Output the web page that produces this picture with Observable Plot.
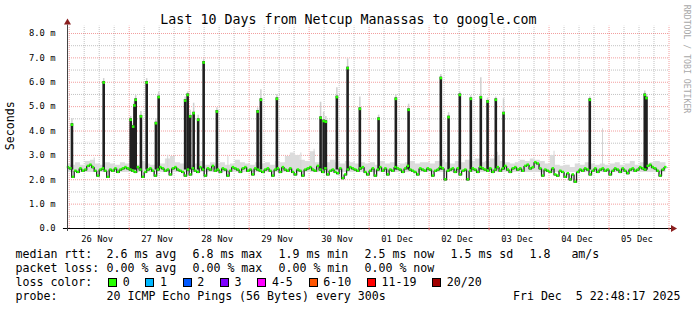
<!DOCTYPE html>
<html><head><meta charset="utf-8">
<script src="https://cdn.jsdelivr.net/npm/d3@7"></script>
<script src="https://cdn.jsdelivr.net/npm/@observablehq/plot@0.6"></script>
<style>
body{margin:0;background:#fff;}
#wrap{position:relative;width:697px;height:310px;overflow:hidden;background:#fff;font-family:"DejaVu Sans Mono",monospace;color:#000;}
#wrap svg{position:absolute;left:0;top:0;}
.t{position:absolute;white-space:pre;line-height:1;font-size:11.6px;}
.box{position:absolute;width:9px;height:9px;box-sizing:border-box;border:1px solid #000;}
</style></head><body><div id="wrap"></div><script>
// ---------- data ----------
const title = "Last 10 Days from Netcup Manassas to google.com";
const yAxisLabel = "Seconds";
const watermark = "RRDTOOL / TOBI OETIKER";
const dayLabels = ["26 Nov","27 Nov","28 Nov","29 Nov","30 Nov","01 Dec","02 Dec","03 Dec","04 Dec","05 Dec"];
const yTicks = [0,1,2,3,4,5,6,7,8];
const yTickLabels = ["0.0","1.0 m","2.0 m","3.0 m","4.0 m","5.0 m","6.0 m","7.0 m","8.0 m"];

// hourly median RTT (ms), one array per day
const medNov26 = [2.5,2.45,2.1,2.35,2.3,2.45,2.35,2.4,2.55,2.6,2.5,2.35,2.15,2.4,2.45,2.35,2.1,2.4,2.35,2.45,2.3,2.4,2.45,2.5];
const medNov27 = [2.45,2.4,2.35,2.3,2.5,2.4,2.1,2.3,2.4,2.45,2.35,2.15,2.4,2.5,2.45,2.35,2.4,2.2,2.45,2.5,2.4,2.35,2.3,2.15];
const medNov28 = [2.4,2.2,2.45,2.35,2.3,2.5,2.4,2.15,2.45,2.4,2.55,2.35,2.4,2.3,2.45,2.4,2.15,2.35,2.5,2.45,2.4,2.3,2.45,2.5];
const medNov29 = [2.35,2.4,2.2,2.45,2.4,2.35,2.3,2.4,2.45,2.35,2.15,2.4,2.45,2.3,2.5,2.4,2.35,2.45,2.3,2.2,2.4,2.35,2.15,2.4];
const medNov30 = [2.45,2.5,2.4,2.35,2.55,2.4,2.3,2.45,2.2,2.35,2.4,2.3,2.25,2.45,2.05,2.2,2.4,2.5,2.45,2.4,2.35,2.45,2.5,2.3];
const medDec01 = [2.2,2.35,2.45,2.15,2.4,2.5,2.35,2.45,2.2,2.4,2.35,2.5,2.45,2.4,2.3,2.45,2.55,2.4,2.35,2.3,2.2,2.45,2.4,2.35];
const medDec02 = [2.45,2.4,2.15,2.35,2.4,2.5,2.45,2.0,2.35,2.4,2.45,2.3,2.45,2.2,2.35,2.4,2.0,2.35,2.45,2.4,2.3,2.5,2.45,2.4];
const medDec03 = [2.35,2.45,2.3,2.4,2.5,2.35,2.45,2.55,2.4,2.3,2.45,2.5,2.4,2.45,2.35,2.55,2.6,2.45,2.5,2.7,2.65,2.45,2.15,2.4];
const medDec04 = [2.35,2.3,2.45,2.2,2.15,2.35,2.3,2.1,2.25,2.0,2.2,1.9,2.3,2.4,2.35,2.45,2.4,2.2,2.35,2.45,2.3,2.4,2.45,2.35];
const medDec05 = [2.4,2.2,2.35,2.45,2.4,2.3,2.45,2.35,2.25,2.4,2.45,2.35,2.4,2.5,2.45,2.4,2.55,2.6,2.5,2.45,2.35,2.15,2.4,2.5];

// 2-hourly top of the grey smoke (ms)
const smokeHi = [
 2.65,2.6,2.7,2.6,2.75,2.8,2.65,2.6,2.7,2.65,2.6,2.7,
 2.65,2.7,2.6,2.75,2.65,2.6,2.7,2.65,2.85,2.95,2.7,2.65,
 2.7,2.6,2.65,2.75,2.6,2.7,2.65,2.7,2.6,2.65,2.8,2.7,
 2.65,2.6,2.7,2.65,2.7,2.6,2.75,2.7,2.95,3.1,3.0,2.8,
 2.75,3.15,2.7,2.65,2.7,2.8,2.7,2.65,2.75,2.7,2.65,2.7,
 2.65,2.7,2.6,2.75,2.65,2.7,2.6,2.65,2.7,2.75,2.65,2.7,
 2.7,2.65,2.75,2.8,2.7,2.65,2.75,2.7,2.8,2.75,2.85,2.7,
 2.75,2.85,3.0,2.75,2.7,2.65,2.7,2.8,2.75,2.85,2.8,2.75,
 2.65,3.0,2.6,2.55,2.6,2.5,2.65,2.6,2.7,2.65,2.6,2.65,
 2.6,2.65,2.7,2.6,2.65,2.75,2.6,2.7,2.65,2.7,2.75,2.7];
const smokeFloor = 2.3;

// latency spikes: hour since 26 Nov 00:00, median value, smoke top
const spikeHours  = [1.1,13.8,24.6,25.6,26.1,26.6,28.7,31.0,34.7,35.8,46.4,47.4,48.4,49.8,51.6,53.8,59.1,75.4,76.7,83.1,100.6,101.8,102.7,107.1,111.4,116.3,123.8,130.7,135.8,148.7,151.8,156.3,160.7,164.7,167.4,170.7,173.8,208.3,230.3,231.0];
const spikeValues = [4.30,6.03,4.50,4.22,5.09,5.32,4.64,6.03,4.36,5.43,5.29,5.52,4.64,4.77,4.50,6.85,4.84,4.84,5.32,5.36,4.58,4.45,4.42,5.43,6.62,4.95,4.54,5.36,4.91,6.21,4.61,5.52,5.36,5.42,5.25,5.32,4.77,5.32,5.52,5.39];
const spikeSmoke  = [4.5,6.15,4.6,4.3,5.2,5.45,4.8,6.15,4.5,5.6,5.4,5.6,4.85,5.14,4.65,6.95,4.95,4.95,5.69,5.5,5.18,4.77,4.6,5.77,6.96,5.39,4.65,5.5,5.1,6.32,4.75,5.6,5.45,6.18,5.35,5.4,5.32,5.4,5.64,5.5];
const spikeBase = 2.4;
// lone grey smoke needles
const needleHours  = [10.0,39.4,63.5,92.7,98.0,171.4,194.0,213.4];
const needleValues = [2.9,3.0,2.95,3.1,3.25,3.13,3.17,4.09];

// legend
const rttStats  = ["2.6 ms avg","6.8 ms max","1.9 ms min","2.5 ms now","1.5 ms sd","1.8   am/s"];
const lossStats = ["0.00 % avg","0.00 % max","0.00 % min","0.00 % now"];
const lossLabels = ["0","1","2","3","4-5","6-10","11-19","20/20"];
const lossColors = ["#26ff00","#00b8ff","#0059ff","#7e00ff","#ff00ff","#ff5500","#ff0000","#a10000"];
const probeText = "20 ICMP Echo Pings (56 Bytes) every 300s";
const dateText = "Fri Dec  5 22:48:17 2025";

// ---------- build ----------
const HOUR = 3600e3, DAY = 24*HOUR;
const t0 = Date.UTC(2025,10,26,0,0);
const T = h => new Date(t0 + h*HOUR);
const xDomain = [T(-0.68), T(240)];

const medianAll = [].concat(medNov26,medNov27,medNov28,medNov29,medNov30,medDec01,medDec02,medDec03,medDec04,medDec05);
const median = medianAll.map((v,i) => ({t: T(i - 0.5), v}));
const smoke = smokeHi.map((v,i) => ({t: T(i*2 - 0.5), v})).concat([{t: T(238.8), v: smokeHi[smokeHi.length-1]}]);
const spikes = spikeHours.map((h,i) => ({t: T(h), v: spikeValues[i], s: spikeSmoke[i]}));
const needles = needleHours.map((h,i) => ({t: T(h), v: needleValues[i]}));

const midnights = d3.range(0, 11).map(d => T(d*24));
const minors = d3.range(0, 40).filter(k => k % 4 !== 0).map(k => T(k*6));
const noons = dayLabels.map((_, i) => T(i*24 + 12));
const halfTicks = [0.5,1.5,2.5,3.5,4.5,5.5,6.5,7.5];

const gridMinor = {stroke: "#8f8f8f", strokeOpacity: 0.55, strokeDasharray: "1,1"};
const gridMajor = {stroke: "#e95f5f", strokeOpacity: 0.6, strokeDasharray: "1,1"};

const chart = Plot.plot({
  width: 697, height: 245,
  marginLeft: 67, marginRight: 28.5, marginTop: 33, marginBottom: 17,
  style: {fontFamily: "DejaVu Sans Mono", fontSize: "8.8px", background: "transparent", color: "#000"},
  x: {type: "utc", domain: xDomain},
  y: {domain: [0, 8]},
  marks: [
    Plot.ruleY(halfTicks, gridMinor),
    Plot.ruleX(minors, {x: d => d, y1: 0, y2: 8.3, ...gridMinor}),
    Plot.ruleY(yTicks.slice(1), gridMajor),
    Plot.ruleX(midnights, {x: d => d, y1: 0, y2: 8.3, ...gridMajor}),
    Plot.areaY(smoke, {x: "t", y1: smokeFloor, y2: "v", fill: "#dcdcdc", curve: "step"}),
    Plot.ruleX(needles, {x: "t", y1: smokeFloor, y2: "v", stroke: "#d4d4d4", strokeWidth: 1}),
    Plot.ruleX(spikes, {x: "t", y1: "v", y2: "s", stroke: "#d0d0d0", strokeWidth: 1.5}),
    Plot.line(median, {x: "t", y: "v", stroke: "#202020", strokeWidth: 1.3, curve: "step"}),
    Plot.ruleX(spikes, {x: "t", y1: spikeBase, y2: "v", stroke: "#202020", strokeWidth: 2.6}),
    Plot.dot(median, {x: "t", y: "v", symbol: "square", r: 1.35, fill: "#26ff00", stroke: "none", dy: -0.5}),
    Plot.dot(spikes, {x: "t", y: "v", symbol: "square", r: 1.45, fill: "#26ff00", stroke: "none", dy: 1}),
    // axes lines
    Plot.ruleY([0], {x1: T(-2.3), x2: T(241.2), stroke: "#000"}),
    Plot.ruleX([xDomain[0]], {x: d => d, y1: -0.12, y2: 8.35, stroke: "#444"}),
    Plot.ruleX(midnights.slice(1), {x: d => d, y1: 0, y2: -0.09, stroke: "#e95f5f"}),
    Plot.dot([xDomain[1]], {x: d => d, y: 0, symbol: "triangle", rotate: 90, r: 2.6, fill: "#8b1f1f", stroke: "none", dx: 4}),
    Plot.dot([xDomain[0]], {x: d => d, y: 8.45, symbol: "triangle", r: 2.6, fill: "#8b1f1f", stroke: "none"}),
    Plot.axisY(yTicks, {tickFormat: d => yTickLabels[d], tickSize: 0, tickPadding: 12, label: null, fill: "#000"}),
    Plot.axisX(noons, {tickFormat: d => dayLabels[Math.floor((d - t0)/DAY)], tickSize: 0, tickPadding: 7, dx: -2, label: null, fill: "#000"})
  ]
});

const wrap = document.getElementById("wrap");
wrap.appendChild(chart);

function txt(s, left, top, extra) {
  const el = document.createElement("div");
  el.className = "t";
  el.textContent = s;
  el.style.left = left + "px";
  el.style.top = top + "px";
  if (extra) Object.assign(el.style, extra);
  wrap.appendChild(el);
  return el;
}
// title
txt(title, 0, 12.7, {width: "697px", textAlign: "center", fontSize: "13.3px"});
// y label
txt(yAxisLabel, -38.85, 119.7, {width: "100px", height: "11.6px", textAlign: "center", transform: "rotate(-90deg)"});
// watermark
txt(watermark, 616.9, 54.9, {width: "140px", height: "8.2px", textAlign: "center", fontSize: "8.2px", color: "#a8a8a8", transform: "rotate(90deg)"});

// legend
const lineTops = [248.5, 262.5, 276.5, 290.5];
const colLefts = [106.5, 192.5, 278.5, 364.5, 450.5, 529.5];
txt("median rtt:", 15.5, lineTops[0]);
rttStats.forEach((s,i) => txt(s, colLefts[i], lineTops[0]));
txt("packet loss:", 15.5, lineTops[1]);
lossStats.forEach((s,i) => txt(s, colLefts[i], lineTops[1]));
txt("loss color:", 15.5, lineTops[2]);
let bx = 108;
lossLabels.forEach((lab, i) => {
  const b = document.createElement("div");
  b.className = "box";
  b.style.left = bx + "px"; b.style.top = "277.5px"; b.style.background = lossColors[i];
  wrap.appendChild(b);
  txt(lab, bx + 14.7, lineTops[2]);
  bx = bx + 15 + lab.length*7 + 15.3;
});
txt("probe:", 15.5, lineTops[3]);
txt(probeText, colLefts[0], lineTops[3]);
txt(dateText, 0, lineTops[3], {left: "auto", right: "16.5px"});
</script></body></html>
